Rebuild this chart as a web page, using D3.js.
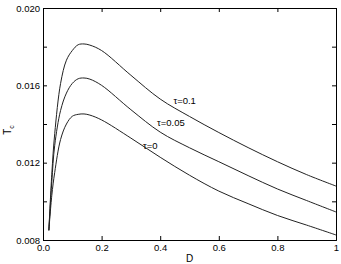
<!DOCTYPE html>
<html>
<head>
<meta charset="utf-8">
<script src="https://cdn.jsdelivr.net/npm/d3@7"></script>
<style>
  body { margin: 0; background: #fff; }
  text { font-family: "Liberation Sans", Arial, sans-serif; fill: #000; }
</style>
</head>
<body>
<div id="chart"></div>
<script>
// values
const dVals   = [0.02, 0.03, 0.04, 0.06, 0.08, 0.10, 0.12, 0.14, 0.16, 0.2, 0.3, 0.4, 0.5, 0.6, 0.7, 0.8, 0.9, 1.0];
const tau01   = [0.0085, 0.0114, 0.0135, 0.0161, 0.0173, 0.0178, 0.01810, 0.01814, 0.01808, 0.0178, 0.01652, 0.01529, 0.01439, 0.01356, 0.01278, 0.01205, 0.01138, 0.01079];
const tau005  = [0.0085, 0.0110, 0.0129, 0.0147, 0.0156, 0.0161, 0.01634, 0.01638, 0.01632, 0.0160, 0.01474, 0.01358, 0.01277, 0.01205, 0.01133, 0.01064, 0.01004, 0.00945];
const tau0    = [0.0085, 0.0103, 0.0115, 0.0132, 0.0140, 0.0144, 0.01450, 0.01452, 0.01446, 0.01421, 0.01327, 0.01228, 0.01135, 0.01053, 0.00988, 0.00927, 0.00877, 0.00826];

const seriesNames = ['τ=0.1', 'τ=0.05', 'τ=0'];
const seriesVals = [tau01, tau005, tau0];
// where each label sits, in data units
const labelPos = [[0.445, 0.01503], [0.389, 0.01390], [0.341, 0.01271]];

const xTicks = [0, 0.2, 0.4, 0.6, 0.8, 1];
const xTickLabels = ['0.0', '0.2', '0.4', '0.6', '0.8', '1'];
const yTicks = [0.008, 0.010, 0.012, 0.014, 0.016, 0.018, 0.020];
const yTickLabels = ['0.008', '', '0.012', '', '0.016', '', '0.020'];

const W = 341, H = 264;
const m = { top: 8, right: 5, bottom: 24, left: 43 };
const w = W - m.left - m.right;
const h = H - m.top - m.bottom;

const svg = d3.select('#chart')
  .append('svg')
  .attr('width', W)
  .attr('height', H);

const g = svg.append('g')
  .attr('transform', `translate(${m.left},${m.top})`);

const x = d3.scaleLinear().domain([0, 1]).range([0, w]);
const y = d3.scaleLinear().domain([0.008, 0.020]).range([h, 0]);

const fs = '9.5px';

// axes, ticks pointing inward
const xAxis = d3.axisBottom(x).tickValues(xTicks)
  .tickFormat((d, i) => xTickLabels[i]).tickSize(-4).tickPadding(4);
const yAxis = d3.axisLeft(y).tickValues(yTicks)
  .tickFormat((d, i) => yTickLabels[i]).tickSize(-4).tickPadding(3);

g.append('g').attr('transform', `translate(0,${h})`).call(xAxis);
g.append('g').call(yAxis);
g.append('g').call(d3.axisTop(x).tickValues(xTicks).tickFormat('').tickSize(-4));
g.append('g').attr('transform', `translate(${w},0)`)
  .call(d3.axisRight(y).tickValues(yTicks).tickFormat('').tickSize(-4));

g.selectAll('.domain').attr('stroke', '#000').attr('stroke-width', 1);
g.selectAll('.tick line').attr('stroke', '#000');
g.selectAll('.tick text').style('font-size', fs).attr('fill', '#000');

// curves
const line = d3.line()
  .x((d, i) => x(dVals[i]))
  .y(d => y(d))
  .curve(d3.curveCatmullRom.alpha(0.5));

g.selectAll('.curve')
  .data(seriesVals)
  .enter()
  .append('path')
  .attr('class', 'curve')
  .attr('d', line)
  .attr('fill', 'none')
  .attr('stroke', '#222')
  .attr('stroke-width', 1);

g.selectAll('.lbl')
  .data(seriesNames)
  .enter()
  .append('text')
  .attr('class', 'lbl')
  .attr('x', (d, i) => x(labelPos[i][0]))
  .attr('y', (d, i) => y(labelPos[i][1]))
  .style('font-size', fs)
  .text(d => d);

// axis titles
svg.append('text')
  .attr('x', m.left + w / 2)
  .attr('y', H - 2)
  .attr('text-anchor', 'middle')
  .style('font-size', '10px')
  .text('D');

const yl = svg.append('text')
  .attr('transform', `translate(11,${m.top + h / 2 + 6}) rotate(-90)`)
  .attr('text-anchor', 'middle')
  .style('font-size', '10px');
yl.append('tspan').text('T');
yl.append('tspan').attr('dy', 3).style('font-size', '7px').text('c');
</script>
</body>
</html>
